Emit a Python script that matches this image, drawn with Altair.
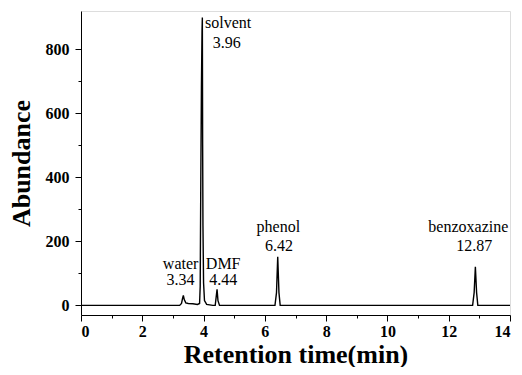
import altair as alt
import pandas as pd

# Chromatogram trace (retention time in min, abundance)
rt = [0.0, 3.22, 3.28, 3.31, 3.34, 3.37, 3.42, 3.50, 3.65, 3.80, 3.87, 3.89,
      3.91, 3.93, 3.95, 3.96, 3.97, 3.98, 4.00, 4.03, 4.10, 4.30, 4.38, 4.41,
      4.44, 4.47, 4.52, 6.33, 6.38, 6.42, 6.46, 6.50, 12.78, 12.83, 12.87,
      12.91, 12.95, 14.0]
abundance = [0, 0, 6, 20, 31, 18, 8, 6, 5, 3, 6, 60, 400, 680, 860, 900, 500,
             250, 70, 15, 3, 0, 0, 25, 50, 15, 0, 0, 40, 152, 40, 0, 0, 40,
             121, 40, 0, 0]

label_text = ["solvent", "3.96", "water", "3.34", "DMF", "4.44",
              "phenol", "6.42", "benzoxazine", "12.87"]
label_x = [4.80, 4.76, 3.25, 3.25, 4.64, 4.64, 6.44, 6.46, 12.64, 12.83]
label_y = [884, 819, 130, 78, 130, 78, 245, 186, 245, 186]

x_major = [0, 2, 4, 6, 8, 10, 12, 14]
x_minor = [1, 3, 5, 7, 9, 11, 13]
y_major = [0, 200, 400, 600, 800]
y_minor = [100, 300, 500, 700]

trace = pd.DataFrame({"rt": rt, "ab": abundance})
labels = pd.DataFrame({"t": label_text, "x": label_x, "y": label_y})

FONT = "Liberation Serif"
xscale = alt.Scale(domain=[0, 14], nice=False, zero=False)
yscale = alt.Scale(domain=[-30, 920], nice=False, zero=False)

line = alt.Chart(trace).mark_line(color="black", strokeWidth=1.4).encode(
    x=alt.X("rt:Q", scale=xscale,
            axis=alt.Axis(values=x_major, format="d", orient="bottom",
                          title="Retention time(min)", grid=False,
                          tickSize=6, tickColor="black", domainColor="black",
                          labelFont=FONT, labelFontSize=16, labelFontWeight="bold",
                          labelColor="black", labelPadding=2,
                          titleFont=FONT, titleFontSize=26, titleFontWeight="bold",
                          titleColor="black", titlePadding=2)),
    y=alt.Y("ab:Q", scale=yscale,
            axis=alt.Axis(values=y_major, format="d", orient="left",
                          title="Abundance", grid=False,
                          tickSize=6, tickColor="black", domainColor="black",
                          labelFont=FONT, labelFontSize=16, labelFontWeight="bold",
                          labelColor="black", labelPadding=6,
                          titleFont=FONT, titleFontSize=26, titleFontWeight="bold",
                          titleColor="black", titlePadding=11)),
)

minor = alt.Chart(trace).mark_point(opacity=0).encode(
    x=alt.X("rt:Q", scale=xscale,
            axis=alt.Axis(values=x_minor, orient="bottom", labels=False,
                          title=None, grid=False, domain=False, tickSize=3,
                          tickColor="black")),
    y=alt.Y("ab:Q", scale=yscale,
            axis=alt.Axis(values=y_minor, orient="left", labels=False,
                          title=None, grid=False, domain=False, tickSize=3,
                          tickColor="black")),
)

text = alt.Chart(labels).mark_text(font=FONT, fontSize=16, color="black",
                                   baseline="middle").encode(
    x=alt.X("x:Q", scale=xscale, axis=None),
    y=alt.Y("y:Q", scale=yscale, axis=None),
    text="t:N",
)

chart = alt.layer(line, minor, text).resolve_axis(
    x="independent", y="independent"
).properties(width=429, height=304, padding={"left": 0, "top": 3, "right": 1, "bottom": 0}).configure_view(
    stroke="black", strokeWidth=1.2
).configure(background="white")

chart.save("out.html", embed_options={"renderer": "svg", "actions": False})
